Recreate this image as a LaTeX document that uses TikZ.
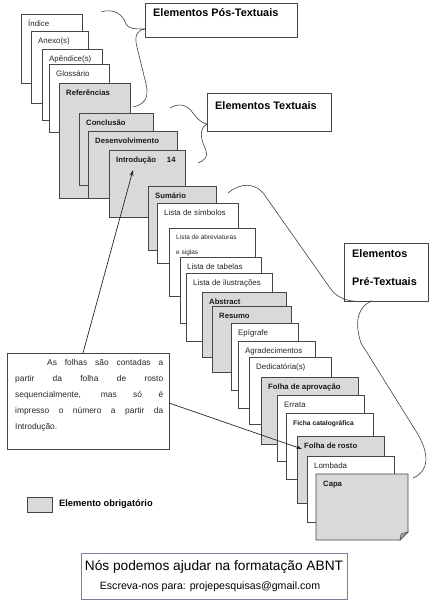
\documentclass[tikz,border=0pt]{standalone}
\usepackage{fontspec}
\setmainfont{Liberation Sans}
\usetikzlibrary{arrows.meta,calc}
\definecolor{pagegray}{RGB}{217,217,217}
\definecolor{edge}{RGB}{70,70,70}
\definecolor{adedge}{RGB}{120,130,150}
\newcommand\pg[6]{\node[#6, minimum width={(#4-#2)*1pt}, minimum height={(#5-#3)*1pt}] (#1) at (#2,#3) {};}
\newcommand\pt[3]{\node[#2] (#1t) at ([shift={(7,12.5)}]#1.north west) {#3};}
\newcommand\jline[1]{\leavevmode\hbox to 148pt{\spaceskip=2.5pt plus 1fill\relax #1}}
\begin{document}
\begin{tikzpicture}[x=1pt,y=-1pt,
  pagebox/.style={draw=edge, line width=0.7pt, inner sep=0pt, outer sep=0pt, anchor=north west},
  wpage/.style={pagebox, fill=white},
  gpage/.style={pagebox, fill=pagegray},
  ptxt/.style={font=\fontsize{7.9}{9}\selectfont, inner sep=0pt, anchor=base west, text=black!85},
  btxt/.style={font=\fontsize{7.7}{9}\selectfont\bfseries, inner sep=0pt, anchor=base west, text=black!90},
  lbl/.style={draw=edge, line width=0.7pt, fill=white, inner sep=0pt, outer sep=0pt, anchor=north west},
  ltxt/.style={font=\fontsize{10.9}{12}\selectfont\bfseries, inner sep=0pt, anchor=base west},
  brace/.style={draw=black!75, line width=0.6pt},
  arr/.style={draw=black!85, line width=0.7pt, -{Stealth[length=6pt,width=4pt]}}
]
\useasboundingbox (0,0) rectangle (431,600);

% label boxes
\node[lbl, minimum width=152pt, minimum height=34pt] (pos) at (145,3) {};
\node[ltxt] (post) at (153,16.5) {Elementos Pós-Textuais};
\node[lbl, minimum width=124pt, minimum height=38pt] (tex) at (207,93) {};
\node[ltxt] (text) at (215,109) {Elementos Textuais};
\node[lbl, minimum width=84pt, minimum height=58pt] (pre) at (344,243) {};
\node[ltxt] (pret1) at (352,257) {Elementos};
\node[ltxt] (pret2) at (352,285) {Pré-Textuais};

% pages
\pg{indice}{21}{14}{82}{83}{wpage}
\pt{indice}{ptxt}{Índice}
\pg{anexo}{31}{31}{88}{103}{wpage}
\pt{anexo}{ptxt}{Anexo(s)}
\pg{apendice}{42}{49}{102}{120}{wpage}
\pt{apendice}{ptxt}{Apêndice(s)}
\pg{glossario}{49}{64}{109}{132}{wpage}
\pt{glossario}{ptxt}{Glossário}
\pg{referencias}{59}{83}{130}{198}{gpage}
\pt{referencias}{btxt}{Referências}
\pg{conclusao}{79}{113}{153}{185}{gpage}
\pt{conclusao}{btxt}{Conclusão}
\pg{desenv}{88}{131}{177}{198}{gpage}
\pt{desenv}{btxt}{Desenvolvimento}
\pg{intro}{109}{150}{185}{217}{gpage}
\pt{intro}{btxt}{Introdução\hspace{11pt}14}
\pg{sumario}{148}{186}{216}{250}{gpage}
\pt{sumario}{btxt}{Sumário}
\pg{simbolos}{157}{203}{238}{263}{wpage}
\pt{simbolos}{ptxt}{Lista de símbolos}
\pg{abrev}{169}{228}{255}{296}{wpage}
\node[ptxt, font=\fontsize{6.5}{8}\selectfont] (abrevt) at ([shift={(7,11)}]abrev.north west) {Lista de abreviaturas};
\node[ptxt, font=\fontsize{6.5}{8}\selectfont] (abrevt2) at ([shift={(7,26)}]abrev.north west) {e siglas};
\pg{tabelas}{180}{257}{261}{323}{wpage}
\pt{tabelas}{ptxt}{Lista de tabelas}
\pg{ilustr}{186}{273}{272}{341}{wpage}
\pt{ilustr}{ptxt}{Lista de ilustrações}
\pg{abstract}{202}{292}{286}{357}{gpage}
\pt{abstract}{btxt}{Abstract}
\pg{resumo}{212}{306}{291}{372}{gpage}
\pt{resumo}{btxt}{Resumo}
\pg{epigrafe}{231}{323}{298}{390}{wpage}
\pt{epigrafe}{ptxt}{Epígrafe}
\pg{agrad}{238}{341}{315}{408}{wpage}
\pt{agrad}{ptxt}{Agradecimentos}
\pg{dedic}{249}{357}{331}{424}{wpage}
\pt{dedic}{ptxt}{Dedicatória(s)}
\pg{aprov}{261}{377}{358}{444}{gpage}
\pt{aprov}{btxt}{Folha de aprovação}
\pg{errata}{277}{395}{364}{461}{wpage}
\pt{errata}{ptxt}{Errata}
\pg{ficha}{286}{413}{373}{479}{wpage}
\node[btxt, font=\fontsize{6.7}{8}\selectfont\bfseries] (ficht) at ([shift={(7,12.5)}]ficha.north west) {Ficha catalográfica};
\pg{rosto}{297}{436}{384}{503}{gpage}
\pt{rosto}{btxt}{Folha de rosto}
\pg{lombada}{307}{456}{394}{522}{wpage}
\pt{lombada}{ptxt}{Lombada}
% capa with folded corner
\node[pagebox, draw=none, minimum width=92pt, minimum height=66pt] (capa) at (316,474) {};
\filldraw[fill=pagegray, draw=edge, line width=0.7pt] (capa.north west) -- (capa.north east) -- ($(capa.south east)+(0,-8)$) -- ($(capa.south east)+(-8,0)$) -- (capa.south west) -- cycle;
\filldraw[fill=black!35, draw=edge, line width=0.5pt] ($(capa.south east)+(0,-8)$) -- ($(capa.south east)+(-7,-6)$) -- ($(capa.south east)+(-8,0)$) -- cycle;
\pt{capa}{btxt}{Capa}

% braces
\draw[brace] (101,12) .. controls (113,8) and (123,14) .. (126,24) .. controls (128,29) and (136,29) .. (pos.west |- 0,29);
\draw[brace] (pos.west |- 0,29) .. controls (137,30) and (134,36) .. (137,47) -- (146,84) .. controls (150,100) and (142,105) .. (133,107);
\draw[brace] (170,108) .. controls (178,103) and (187,104) .. (193,113) .. controls (198,120) and (202,123) .. (tex.west |- 0,124);
\draw[brace] (tex.west |- 0,124) .. controls (201,127) and (200,134) .. (203,143) .. controls (206,151) and (211,158) .. (198,163);
\draw[brace] (228,193) .. controls (240,183) and (256,181) .. (266,197) -- (330,288) .. controls (338,300) and (352,303) .. (pre.south -| 372,0);
\draw[brace] (pre.south -| 372,0) .. controls (358,306) and (354,322) .. (361,343) -- (414,428) .. controls (432,455) and (428,472) .. (413,478);

% note
\node[lbl, minimum width=162pt, minimum height=96pt] (note) at (7,353) {};
\node[anchor=north west, inner sep=0pt, text width=148pt, align=left, font=\fontsize{8.4}{16}\selectfont, text=black!85] (notet) at (15,359.5) {%
\jline{\hspace*{32pt}As folhas são contadas a}\\
\jline{partir da folha de rosto}\\
\jline{sequencialmente, mas só é}\\
\jline{impresso o número a partir da}\\
Introdução.};
\coordinate (a1s) at ($(note.north west)+(76,0)$);
\coordinate (a1e) at ($(intro.north west)+(24,20)$);
\draw[arr] (a1s) -- (a1e);
\coordinate (a2s) at ($(note.north east)+(0,50)$);
\coordinate (a2e) at ($(rosto.north west)+(5,13)$);
\draw[arr] (a2s) -- (a2e);

% legend
\node[gpage, minimum width=25pt, minimum height=15pt] (legend) at (27,497) {};
\node[font=\fontsize{9.3}{11}\selectfont\bfseries, inner sep=0pt, anchor=west] (legendt) at (59,504) {Elemento obrigatório};

% advert box
\node[draw=adedge, line width=0.8pt, minimum width=266pt, minimum height=46pt, anchor=north west, inner sep=0pt] (ad) at (81,553) {};
\node[font=\fontsize{13.7}{16}\selectfont, inner sep=0pt] (ad1) at (214,567) {Nós podemos ajudar na formatação ABNT};
\node[font=\fontsize{10.6}{12}\selectfont, inner sep=0pt] (ad2) at (210,587) {Escreva-nos para: projepesquisas@gmail.com};
\end{tikzpicture}
\end{document}
